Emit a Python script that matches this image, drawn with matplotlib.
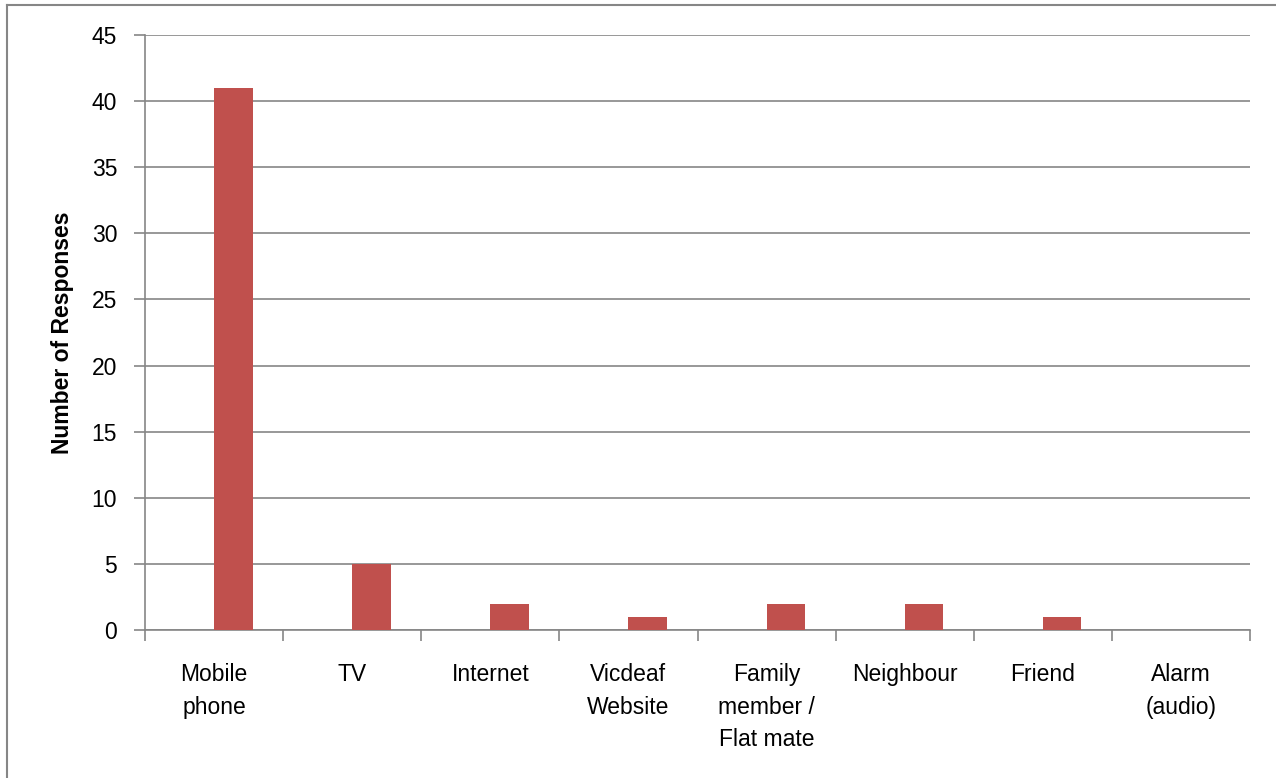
import matplotlib.pyplot as plt
from matplotlib.lines import Line2D
import numpy as np

categories = ['Mobile\nphone', 'TV', 'Internet', 'Vicdeaf\nWebsite',
              'Family\nmember /\nFlat mate', 'Neighbour', 'Friend', 'Alarm\n(audio)']
responses = [41, 5, 2, 1, 2, 2, 1, 0]
y_ticks = [0, 5, 10, 15, 20, 25, 30, 35, 40, 45]

plt.rcParams['font.family'] = ['Liberation Sans', 'DejaVu Sans']

fig = plt.figure(figsize=(12.76, 7.78), dpi=100)
ax = fig.add_axes([145 / 1276, 1 - 630 / 778, 1105 / 1276, 595 / 778])

# outer chart border (only top and left edges fall inside the image)
border = '#868686'
fig.add_artist(Line2D([7 / 1276, 1.0], [1 - 5 / 778, 1 - 5 / 778],
                      transform=fig.transFigure, color=border, linewidth=1.5))
fig.add_artist(Line2D([7 / 1276, 7 / 1276], [0.0, 1 - 5 / 778],
                      transform=fig.transFigure, color=border, linewidth=1.5))

x = np.arange(len(categories))
# bars sit to the right of the category centre (second slot of a cluster)
ax.bar(x, responses, width=0.28, align='edge', color='#C0504D', zorder=3)

ax.set_xlim(-0.5, len(categories) - 0.5)
ax.set_ylim(0, 45)
ax.set_yticks(y_ticks)
ax.tick_params(axis='y', labelsize=16.5, length=8, width=1.2, color=border, pad=12)
ax.yaxis.grid(True, color=border, linewidth=1.2, zorder=0)
ax.set_axisbelow(True)

ax.set_xticks(np.arange(len(categories) + 1) - 0.5)
ax.set_xticklabels([])
ax.tick_params(axis='x', length=8, width=1.2, color=border)
ax.set_xticks(x, minor=True)
ax.set_xticklabels(categories, minor=True, fontsize=16.5, linespacing=1.52)
ax.tick_params(axis='x', which='minor', length=0, pad=24)
for lbl in ax.get_xticklabels(minor=True):
    lbl.set_verticalalignment('top')

for side in ['top', 'right']:
    ax.spines[side].set_visible(False)
for side in ['left', 'bottom']:
    ax.spines[side].set_color(border)
    ax.spines[side].set_linewidth(1.2)

ax.set_ylabel('Number of Responses', fontsize=16.5, fontweight='bold')
ax.yaxis.set_label_coords(-0.064, 0.5)

fig.savefig('out.png', dpi=100)
